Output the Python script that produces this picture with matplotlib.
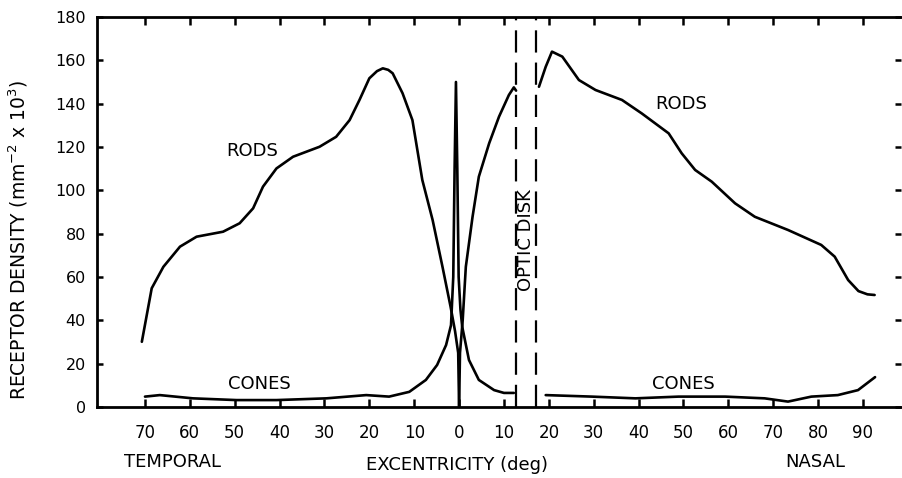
import matplotlib
matplotlib.use("Agg")
import matplotlib.pyplot as plt
import numpy as np

plt.rcParams['font.family'] = ['DejaVu Sans']

# excentricity in degrees: temporal is negative, nasal positive
rods_temporal_x = [-70.7, -68.5, -65.9, -62.2, -58.5, -52.6, -48.9, -45.9, -43.7, -40.7,
                   -37.0, -31.1, -27.4, -24.4, -22.2, -20.0, -18.3, -17.0, -15.8, -14.8,
                   -12.6, -10.4, -9.3, -8.2, -5.9, -3.7, -1.9, -0.9, -0.2, 0.0]
rods_temporal_y = [30.1, 54.8, 64.7, 74.0, 78.6, 80.9, 84.8, 91.7, 101.7, 110.1,
                   115.5, 120.1, 124.7, 132.4, 141.7, 151.7, 155.0, 156.3, 155.6, 154.0,
                   144.8, 132.4, 118.6, 104.8, 86.3, 64.7, 46.3, 35.0, 25.0, 0.0]

rods_nasal_x = [0.0, 0.2, 0.8, 1.5, 3.0, 4.4, 6.7, 8.9, 11.1, 12.2, 12.7]
rods_nasal_y = [0.0, 25.0, 40.0, 64.7, 87.8, 106.3, 121.7, 134.0, 144.0, 147.5, 146.0]

rods_far_x = [17.8, 19.3, 20.7, 23.0, 26.7, 30.4, 36.3, 40.7, 46.7, 49.6,
              52.6, 56.3, 61.5, 65.9, 73.3, 80.7, 83.7, 86.7, 89.0, 91.0, 92.6]
rods_far_y = [147.8, 157.0, 164.0, 161.7, 150.9, 146.3, 141.7, 135.5, 126.3, 117.1,
              109.4, 104.0, 94.0, 87.8, 81.7, 74.8, 69.4, 58.6, 53.5, 52.0, 51.7]

cones_x = [-70.0, -66.7, -59.3, -49.6, -40.7, -29.6, -20.7, -15.6, -11.1, -7.4,
           -4.9, -2.9, -1.8, -1.3, -1.0, -0.7, -0.4, -0.1, 0.3, 0.7,
           2.2, 4.4, 7.8, 10.0, 12.2]
cones_y = [4.8, 5.5, 4.0, 3.2, 3.2, 4.0, 5.5, 4.8, 7.0, 12.5,
           19.4, 28.6, 37.8, 60.0, 110.0, 150.0, 110.0, 60.0, 45.0, 37.0,
           21.7, 12.5, 7.8, 6.5, 6.5]

cones_far_x = [19.3, 29.6, 39.3, 48.9, 59.3, 68.1, 73.3, 78.5, 84.4, 88.9, 92.7]
cones_far_y = [5.5, 4.8, 4.0, 4.8, 4.8, 4.0, 2.5, 4.8, 5.5, 7.8, 13.8]

disk_edges = [12.7, 17.1]

x_ticks = [-70, -60, -50, -40, -30, -20, -10, 0, 10, 20, 30, 40, 50, 60, 70, 80, 90]
x_tick_labels = [str(abs(t)) for t in x_ticks]
y_ticks = [0, 20, 40, 60, 80, 100, 120, 140, 160, 180]

fig = plt.figure(figsize=(9.02, 4.78), dpi=100)
ax = fig.add_axes([0.1075, 0.1485, 0.891, 0.816])

lw = 1.9
for xs, ys in [(rods_temporal_x, rods_temporal_y), (rods_nasal_x, rods_nasal_y),
               (rods_far_x, rods_far_y), (cones_x, cones_y), (cones_far_x, cones_far_y)]:
    ax.plot(xs, ys, color='black', lw=lw, solid_joinstyle='round', solid_capstyle='round')

for xe in disk_edges:
    ax.axvline(xe, color='black', lw=1.6, dashes=(10, 4.5))

ax.set_xlim(-80.7, 98.4)
ax.set_ylim(0, 180)
ax.set_xticks(x_ticks)
ax.set_xticklabels(x_tick_labels)
ax.set_yticks(y_ticks)

ax.spines['right'].set_visible(False)
for s in ['left', 'bottom', 'top']:
    ax.spines[s].set_linewidth(2.0)

ax.tick_params(axis='x', direction='in', length=6, width=1.8, top=True,
               labelsize=12, pad=12)
ax.tick_params(axis='y', direction='in', length=4, width=1.8, right=True,
               labelsize=11.5, pad=8)

ax.text(-46.0, 118, 'RODS', fontsize=13, ha='center', va='center')
ax.text(49.5, 140, 'RODS', fontsize=13, ha='center', va='center')
ax.text(-44.5, 10.5, 'CONES', fontsize=13, ha='center', va='center')
ax.text(50.0, 10.5, 'CONES', fontsize=13, ha='center', va='center')
ax.text(15.0, 77, 'OPTIC DISK', fontsize=13, rotation=90, ha='center', va='center')

fig.text(173 / 902, 1 - 462 / 478, 'TEMPORAL', fontsize=13, ha='center', va='center')
fig.text(457 / 902, 1 - 465 / 478, 'EXCENTRICITY (deg)', fontsize=13, ha='center', va='center')
fig.text(815 / 902, 1 - 462 / 478, 'NASAL', fontsize=13, ha='center', va='center')
fig.text(18 / 902, 1 - 240 / 478, r'RECEPTOR DENSITY (mm$^{-2}$ x 10$^{3}$)',
         fontsize=13.5, rotation=90, ha='center', va='center')

fig.savefig('out.png', dpi=100)
